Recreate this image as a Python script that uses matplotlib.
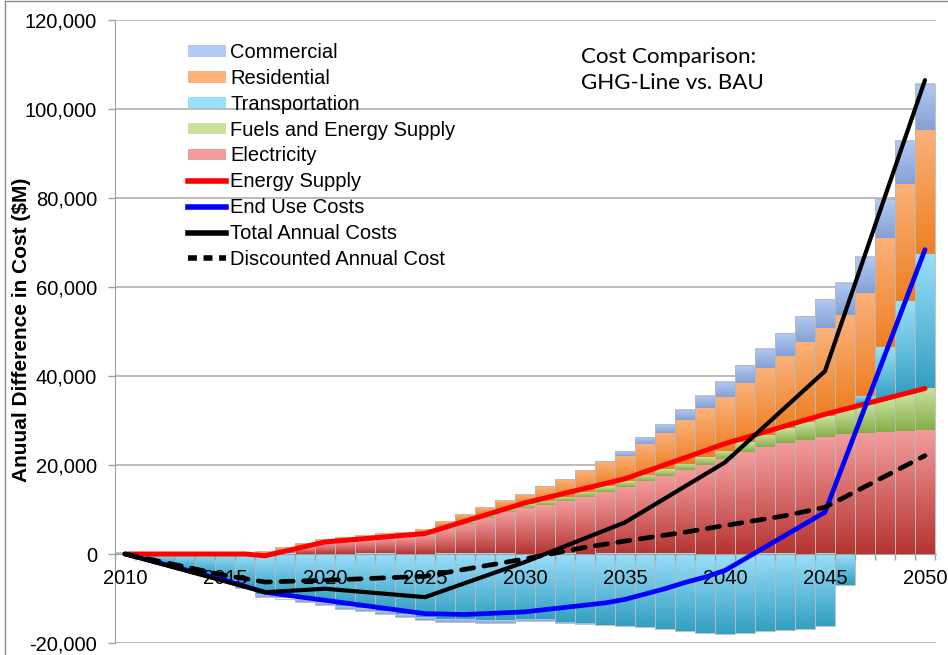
import numpy as np
import matplotlib
matplotlib.use("Agg")
import matplotlib.pyplot as plt
from matplotlib.colors import LinearSegmentedColormap
from matplotlib.patches import Patch
from matplotlib.lines import Line2D
from matplotlib.ticker import FuncFormatter, MultipleLocator

plt.rcParams["font.family"] = ["Liberation Sans", "DejaVu Sans"]

# ---- data, thousands of $M ----
YEARS = list(range(2010, 2051))

electricity = [0, 0, 0, 0, 0, 0, 0, 0, 0.6, 1.5, 2.3, 2.8, 3.1, 3.5, 3.8, 4.2, 5.6, 6.8, 8.0, 9.4,
               10.3, 10.9, 11.8, 12.8, 14.0, 15.1, 16.3, 17.6, 18.8, 20.1, 21.4, 22.9, 24.1, 25.0,
               25.7, 26.4, 27.0, 27.2, 27.4, 27.6, 27.9]
fuels = [0.3, 0, 0, 0, 0, 0, 0, 0, 0.1, 0.1, 0.2, 0.2, 0.2, 0.3, 0.3, 0.3, 0.5, 0.6, 0.7, 0.8,
         0.9, 1.0, 1.1, 1.2, 1.2, 1.3, 1.4, 1.4, 1.5, 1.6, 1.8, 2.2, 2.7, 3.3, 3.9, 4.6, 5.4,
         6.4, 7.4, 8.3, 9.3]
transportation = [0, -1.2, -2.2, -3.3, -4.6, -5.9, -7.4, -9.2, -9.5, -10.3, -11.0, -11.8, -12.4,
                  -12.9, -13.6, -14.3, -14.7, -14.7, -14.9, -14.9, -14.6, -14.8, -15.3, -15.7,
                  -16.0, -16.2, -16.5, -16.9, -17.4, -17.7, -17.9, -17.7, -17.4, -17.1, -16.8,
                  -16.2, -6.9, 1.8, 11.7, 20.9, 30.2]
residential = [0, 0, 0, 0, 0, 0, 0, 0.6, 0.7, 0.8, 0.7, 0.7, 0.7, 0.7, 0.8, 0.9, 1.2, 1.4, 1.7,
               1.8, 2.1, 3.3, 4.0, 4.8, 5.5, 5.7, 7.0, 8.3, 9.8, 11.0, 12.1, 13.4, 14.9, 16.3,
               18.1, 19.7, 21.3, 23.3, 24.5, 26.3, 27.9]
commercial = [0, 0, 0, 0, 0, 0, -0.2, -0.5, -0.5, -0.5, -0.5, -0.5, -0.5, -0.5, -0.6, -0.6,
              -0.6, -0.6, -0.6, -0.5, -0.4, -0.3, -0.2, -0.1, 0.2, 1.0, 1.5, 1.9, 2.3, 2.8, 3.4,
              4.0, 4.4, 5.1, 5.8, 6.5, 7.2, 8.1, 8.7, 9.7, 10.4]

supply_years = [2010, 2016, 2017, 2020, 2025, 2030, 2035, 2040, 2045, 2050]
energy_supply = [0, 0, -0.4, 2.7, 4.6, 11.5, 16.9, 24.8, 31.4, 37.2]

enduse_years = [2010, 2015, 2017, 2020, 2025, 2027, 2030, 2032, 2034, 2035, 2036, 2037, 2038,
                2039, 2040, 2045, 2050]
end_use = [0, -5.9, -8.6, -10.4, -13.4, -13.6, -13.0, -12.0, -11.0, -10.2, -9.0, -7.8, -6.4,
           -5.2, -3.7, 9.4, 68.4]

total_years = [2010, 2017, 2020, 2025, 2030, 2035, 2040, 2045, 2050]
total_cost = [0, -8.6, -7.8, -9.7, -1.8, 7.1, 20.6, 41.1, 106.5]

disc_years = [2010, 2015, 2017, 2020, 2025, 2030, 2033, 2035, 2038, 2040, 2043, 2045, 2050]
discounted = [0, -4.8, -6.3, -5.9, -5.0, -1.1, 1.5, 2.9, 4.9, 6.4, 8.6, 10.5, 22.1]

# stacking order bottom -> top (legend shows it reversed); (name, values, dark, light)
STACK = [
    ("Electricity", electricity, "#b53431", "#f39c9c"),
    ("Fuels and Energy Supply", fuels, "#86ad48", "#c7e39b"),
    ("Transportation", transportation, "#33a0c2", "#9adffa"),
    ("Residential", residential, "#ee7f22", "#fbb27a"),
    ("Commercial", commercial, "#85a1d4", "#b2caf3"),
]

fig = plt.figure(figsize=(9.48, 6.55), dpi=100)
ax = fig.add_axes([115 / 948, 1 - 643 / 655, 821 / 948, 623 / 655])

x = np.array(YEARS, dtype=float)
pos_base = np.zeros(len(x))
neg_base = np.zeros(len(x))
grad = np.linspace(0, 1, 64).reshape(-1, 1)
for name, vals, dark, light in STACK:
    v = np.array(vals) * 1000
    bottoms = np.where(v >= 0, pos_base, neg_base)
    bars = ax.bar(x, v, width=1.0, bottom=bottoms, facecolor="none", linewidth=0, zorder=2)
    cmap = LinearSegmentedColormap.from_list(name, [dark, light])
    for b in bars:
        h = b.get_height()
        if h == 0:
            continue
        lo, hi = sorted([b.get_y(), b.get_y() + h])
        ax.imshow(grad, extent=[b.get_x(), b.get_x() + b.get_width(), lo, hi], origin="lower",
                  cmap=cmap, aspect="auto", zorder=2, interpolation="bilinear")
    pos_base = pos_base + np.where(v > 0, v, 0)
    neg_base = neg_base + np.where(v < 0, v, 0)

# thin grey outline around each year's column
ax.bar(x, pos_base - neg_base, width=1.0, bottom=neg_base, facecolor="none",
       edgecolor="#b8b8b8", linewidth=0.6, zorder=2.2)

ax.plot(supply_years, np.array(energy_supply) * 1000, color="#ff0000", lw=3.6, zorder=4,
        solid_capstyle="round", solid_joinstyle="round")
ax.plot(enduse_years, np.array(end_use) * 1000, color="#0000ff", lw=3.4, zorder=4,
        solid_capstyle="round", solid_joinstyle="round")
ax.plot(total_years, np.array(total_cost) * 1000, color="black", lw=3.0, zorder=5,
        solid_capstyle="round", solid_joinstyle="round")
ax.plot(disc_years, np.array(discounted) * 1000, color="black", lw=3.4, zorder=5,
        dashes=(2.6, 2.2), dash_capstyle="round")

ax.set_xlim(2009.5, 2050.55)
ax.set_ylim(-20000, 120000)

# y axis
ax.yaxis.set_major_locator(MultipleLocator(20000))
ax.yaxis.set_major_formatter(FuncFormatter(lambda v, p: f"{v:,.0f}"))
ax.yaxis.grid(True, color="#a9a9a9", lw=1.1)
ax.set_axisbelow(True)
ax.tick_params(axis="y", length=5, width=1, color="#a0a0a0", pad=8, labelsize=14.5)

# x axis sits at zero; labels above the bars, below the lines
ax.xaxis.set_zorder(3)
ax.spines["bottom"].set_position(("data", 0))
ax.spines["bottom"].set_color("#a0a0a0")
ax.spines["left"].set_color("#a0a0a0")
ax.spines["top"].set_visible(False)
ax.spines["right"].set_visible(False)
ax.set_xticks(range(2010, 2051, 5))
ax.set_xticks(np.arange(2009.5, 2051, 1), minor=True)
ax.tick_params(axis="x", which="major", length=0, pad=11, labelsize=14.5)
ax.tick_params(axis="x", which="minor", length=4, width=1, color="#a0a0a0")

fig.text(22 / 948, 1 - 330 / 655, "Anuual Difference in Cost ($M)", rotation=90,
         ha="center", va="center", fontsize=15, fontweight="bold")

handles = [Patch(facecolor=c[3], edgecolor="none") for c in STACK[::-1]]
labels = [c[0] for c in STACK[::-1]]
handles += [Line2D([], [], color="#ff0000", lw=4),
            Line2D([], [], color="#0000ff", lw=4),
            Line2D([], [], color="black", lw=4),
            Line2D([], [], color="black", lw=4, dashes=(1.6, 1.2))]
labels += ["Energy Supply", "End Use Costs", "Total Annual Costs", "Discounted Annual Cost"]
fig.legend(handles, labels, loc="upper left", bbox_to_anchor=(178 / 948, 1 - 33 / 655),
           frameon=False, fontsize=14.5, borderpad=0, labelspacing=0.34, handlelength=1.9,
           handleheight=0.5, handletextpad=0.2)

fig.text(581 / 948, 1 - 47 / 655, "Cost Comparison:\nGHG-Line vs. BAU", ha="left", va="top",
         fontsize=16.1, family=["Lato", "DejaVu Sans"], linespacing=1.4)

# outer chart border
fig.add_artist(Line2D([5 / 948, 5 / 948], [0, 1 - 0.5 / 655], color="#8c8c8c", lw=1))
fig.add_artist(Line2D([5 / 948, 1], [1 - 0.5 / 655, 1 - 0.5 / 655], color="#8c8c8c", lw=1))

fig.savefig("out.png", dpi=100)
